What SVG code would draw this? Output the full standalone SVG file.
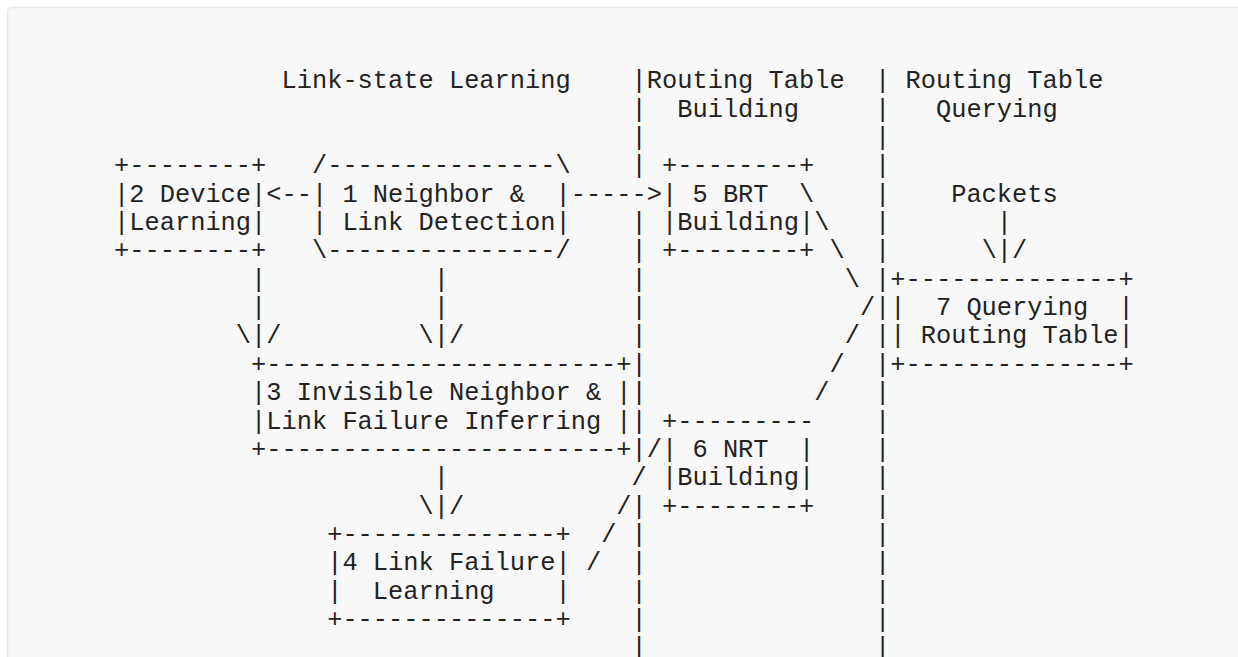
<svg xmlns="http://www.w3.org/2000/svg" width="1238" height="657" viewBox="0 0 1238 657" xml:space="preserve">
<style>
.t{font-family:"Liberation Mono","DejaVu Sans Mono",monospace;font-size:25.37px;fill:#222;white-space:pre}
</style>
<rect x="0" y="0" width="1238" height="657" fill="#ffffff"/>
<rect x="7.5" y="7.5" width="1250" height="670" rx="4" fill="#f8f8f8" stroke="#e8e8e8" stroke-width="1.5"/>
<g id="headers" class="t">
<text x="281.52" y="88.3">Link-state Learning</text>
<text x="646.8" y="88.3">Routing Table</text>
<text x="905.54" y="88.3">Routing Table</text>
<text x="677.24" y="116.65">Building</text>
<text x="935.98" y="116.65">Querying</text>
</g>
<g id="dividers" class="t">
<text><tspan x="631.58" y="88.3">|</tspan><tspan x="631.58" y="116.65">|</tspan><tspan x="631.58" y="145">|</tspan><tspan x="631.58" y="173.35">|</tspan><tspan x="631.58" y="230.05">|</tspan><tspan x="631.58" y="258.4">|</tspan><tspan x="631.58" y="286.75">|</tspan><tspan x="631.58" y="315.1">|</tspan><tspan x="631.58" y="343.45">|</tspan><tspan x="631.58" y="371.8">|</tspan><tspan x="631.58" y="400.15">|</tspan><tspan x="631.58" y="428.5">|</tspan><tspan x="631.58" y="456.85">|</tspan><tspan x="631.58" y="513.55">|</tspan><tspan x="631.58" y="541.9">|</tspan><tspan x="631.58" y="570.25">|</tspan><tspan x="631.58" y="598.6">|</tspan><tspan x="631.58" y="626.95">|</tspan><tspan x="631.58" y="655.3">|</tspan></text>
<text><tspan x="875.1" y="88.3">|</tspan><tspan x="875.1" y="116.65">|</tspan><tspan x="875.1" y="145">|</tspan><tspan x="875.1" y="173.35">|</tspan><tspan x="875.1" y="201.7">|</tspan><tspan x="875.1" y="230.05">|</tspan><tspan x="875.1" y="258.4">|</tspan><tspan x="875.1" y="286.75">|</tspan><tspan x="875.1" y="315.1">|</tspan><tspan x="875.1" y="343.45">|</tspan><tspan x="875.1" y="371.8">|</tspan><tspan x="875.1" y="400.15">|</tspan><tspan x="875.1" y="428.5">|</tspan><tspan x="875.1" y="456.85">|</tspan><tspan x="875.1" y="485.2">|</tspan><tspan x="875.1" y="513.55">|</tspan><tspan x="875.1" y="541.9">|</tspan><tspan x="875.1" y="570.25">|</tspan><tspan x="875.1" y="598.6">|</tspan><tspan x="875.1" y="626.95">|</tspan><tspan x="875.1" y="655.3">|</tspan></text>
</g>
<g id="node-2-device-learning" class="t">
<text x="114.1" y="173.35">+--------+</text>
<text x="114.1" y="201.7">|2 Device|</text>
<text x="114.1" y="230.05">|Learning|</text>
<text x="114.1" y="258.4">+--------+</text>
</g>
<g id="node-1-neighbor-link-detection" class="t">
<text x="311.96" y="173.35">/---------------\</text>
<text x="311.96" y="201.7">|&#160;1 Neighbor &amp;&#160;&#160;|</text>
<text x="311.96" y="230.05">|&#160;Link Detection|</text>
<text x="311.96" y="258.4">\---------------/</text>
</g>
<g id="node-5-brt-building" class="t">
<text x="662.02" y="173.35">+--------+</text>
<text x="662.02" y="201.7">|&#160;5 BRT&#160;&#160;\</text>
<text x="662.02" y="230.05">|Building|</text>
<text x="662.02" y="258.4">+--------+</text>
</g>
<g id="packets" class="t">
<text x="951.2" y="201.7">Packets</text>
</g>
<g id="node-7-querying-routing-table" class="t">
<text x="890.32" y="286.75">+--------------+</text>
<text x="890.32" y="315.1">|&#160;&#160;7 Querying&#160;&#160;|</text>
<text x="890.32" y="343.45">|&#160;Routing Table|</text>
<text x="890.32" y="371.8">+--------------+</text>
</g>
<g id="node-3-invisible-neighbor" class="t">
<text x="251.08" y="371.8">+-----------------------+</text>
<text x="251.08" y="400.15">|3 Invisible Neighbor &amp;&#160;|</text>
<text x="251.08" y="428.5">|Link Failure Inferring&#160;|</text>
<text x="251.08" y="456.85">+-----------------------+</text>
</g>
<g id="node-6-nrt-building" class="t">
<text x="662.02" y="428.5">+---------</text>
<text x="662.02" y="456.85">|&#160;6 NRT&#160;&#160;|</text>
<text x="662.02" y="485.2">|Building|</text>
<text x="662.02" y="513.55">+--------+</text>
</g>
<g id="node-4-link-failure-learning" class="t">
<text x="327.18" y="541.9">+--------------+</text>
<text x="327.18" y="570.25">|4 Link Failure|</text>
<text x="327.18" y="598.6">|&#160;&#160;Learning&#160;&#160;&#160;&#160;|</text>
<text x="327.18" y="626.95">+--------------+</text>
</g>
<g id="connectors" class="t">
<text x="266.3" y="201.7">&lt;--</text>
<text x="570.7" y="201.7">-----&gt;</text>
<text x="251.08" y="286.75">|</text>
<text x="251.08" y="315.1">|</text>
<text x="235.86" y="343.45">\|/</text>
<text x="433.72" y="286.75">|</text>
<text x="433.72" y="315.1">|</text>
<text x="418.5" y="343.45">\|/</text>
<text x="433.72" y="485.2">|</text>
<text x="418.5" y="513.55">\|/</text>
<text x="996.86" y="230.05">|</text>
<text x="981.64" y="258.4">\|/</text>
<text x="814.22" y="230.05">\</text>
<text x="829.44" y="258.4">\</text>
<text x="844.66" y="286.75">\</text>
<text x="859.88" y="315.1">/</text>
<text x="844.66" y="343.45">/</text>
<text x="829.44" y="371.8">/</text>
<text x="814.22" y="400.15">/</text>
<text x="646.8" y="456.85">/</text>
<text x="631.58" y="485.2">/</text>
<text x="616.36" y="513.55">/</text>
<text x="601.14" y="541.9">/</text>
<text x="585.92" y="570.25">/</text>
</g>
</svg>
